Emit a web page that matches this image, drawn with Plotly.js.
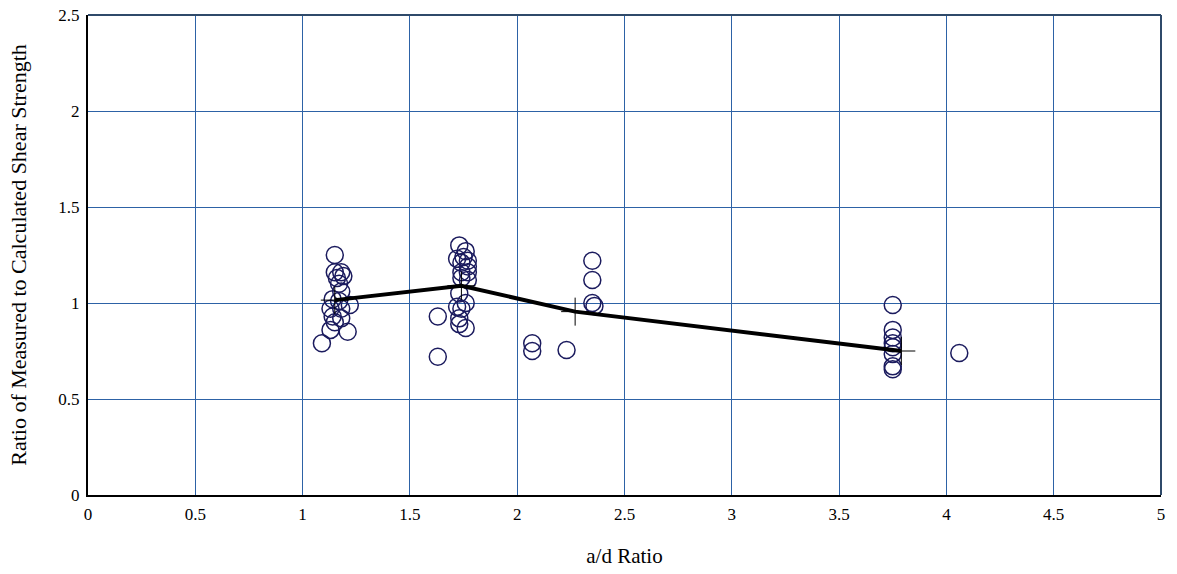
<!DOCTYPE html>
<html>
<head>
<meta charset="utf-8">
<script src="https://cdn.plot.ly/plotly-3.0.1.min.js"></script>
<style>html,body{margin:0;padding:0;background:#fff;}#chart{width:1177px;height:574px;}</style>
</head>
<body>
<div id="chart"></div>
<script>
// Measured test data: a/d ratio vs. ratio of measured to calculated shear strength
const testAD = [
  1.09, 1.13, 1.21, 1.14, 1.18, 1.13, 1.18, 1.22, 1.14, 1.18, 1.17, 1.15, 1.16, 1.18, 1.19, 1.15, 1.17, 1.15,
  1.73, 1.76, 1.72, 1.75, 1.77, 1.74, 1.77, 1.74, 1.77, 1.74, 1.77, 1.73, 1.76, 1.72, 1.74, 1.73, 1.73, 1.76,
  1.63, 1.63,
  2.07, 2.07, 2.23,
  2.35, 2.35, 2.35, 2.36,
  3.75, 3.75, 3.75, 3.75, 3.75, 3.75, 3.75, 3.75,
  4.06
];
const testRatio = [
  0.79, 0.86, 0.85, 0.93, 0.92, 0.97, 0.97, 0.99, 1.02, 1.06, 1.10, 1.16, 1.13, 1.16, 1.14, 1.25, 1.01, 0.90,
  1.30, 1.27, 1.23, 1.24, 1.22, 1.21, 1.19, 1.16, 1.16, 1.13, 1.12, 1.05, 1.00, 0.98, 0.97, 0.92, 0.89, 0.87,
  0.93, 0.72,
  0.79, 0.75, 0.755,
  1.22, 1.12, 1.00, 0.985,
  0.99, 0.86, 0.82, 0.79, 0.77, 0.735, 0.67, 0.655,
  0.74
];
// Group mean trend line
const meanAD = [1.15, 1.74, 2.27, 3.79];
const meanRatio = [1.015, 1.09, 0.955, 0.75];

const serif = '"Liberation Serif", "Times New Roman", serif';
const gridColor = '#2d62a6';
const traces = [
  {
    x: testAD, y: testRatio, type: 'scatter', mode: 'markers',
    marker: {symbol: 'circle-open', size: 17, color: '#1b1b5e', line: {width: 1.5, color: '#1b1b5e'}},
    showlegend: false
  },
  {
    x: meanAD, y: meanRatio, type: 'scatter', mode: 'lines',
    line: {color: '#000', width: 4},
    showlegend: false
  },
  {
    x: meanAD, y: meanRatio, type: 'scatter', mode: 'markers',
    marker: {symbol: 'cross-thin-open', size: 20, color: '#000', line: {width: 1, color: '#000'}},
    showlegend: false
  }
];

const layout = {
  width: 1177, height: 574,
  margin: {l: 88, r: 16, t: 15, b: 79},
  paper_bgcolor: '#fff', plot_bgcolor: '#fff',
  font: {family: serif, color: '#000', size: 17},
  xaxis: {
    range: [0, 5], dtick: 0.5, tick0: 0,
    showgrid: true, gridcolor: gridColor, gridwidth: 1,
    zeroline: false, showline: true, linecolor: '#000', linewidth: 2,
    ticks: 'outside', ticklen: 3, tickcolor: 'rgba(0,0,0,0)',
    tickfont: {family: serif, size: 17, color: '#000'},
    title: {text: 'a/d Ratio', font: {family: serif, size: 21, color: '#000'}, standoff: 25}
  },
  yaxis: {
    range: [0, 2.5], dtick: 0.5, tick0: 0,
    showgrid: true, gridcolor: gridColor, gridwidth: 1,
    zeroline: false, showline: true, linecolor: '#000', linewidth: 2,
    ticks: 'outside', ticklen: 3, tickcolor: 'rgba(0,0,0,0)',
    tickfont: {family: serif, size: 17, color: '#000'},
    title: {text: 'Ratio of Measured to Calculated Shear Strength', font: {family: serif, size: 22, color: '#000'}, standoff: 26}
  },
  shapes: [
    {type: 'line', xref: 'paper', yref: 'paper', x0: 0, x1: 1, y0: 1, y1: 1, line: {color: '#2f4a6a', width: 2}},
    {type: 'line', xref: 'paper', yref: 'paper', x0: 1, x1: 1, y0: 0, y1: 1, line: {color: '#2f4a6a', width: 2}}
  ]
};

Plotly.newPlot('chart', traces, layout, {staticPlot: true, displayModeBar: false});
</script>
</body>
</html>
